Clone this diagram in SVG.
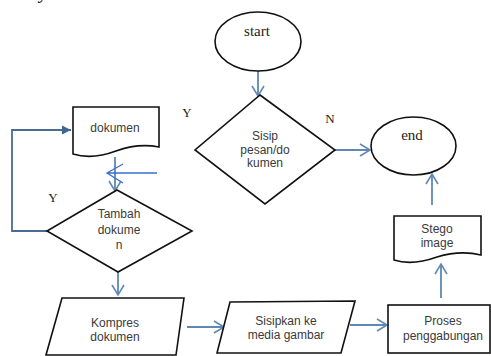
<svg xmlns="http://www.w3.org/2000/svg" width="491" height="356" viewBox="0 0 491 356">
<style>
.shape{fill:#fff;stroke:#111;stroke-width:1.6}
.lbl{font-family:"Liberation Sans",Arial,sans-serif;font-size:12px;fill:#3a3a3a;text-anchor:middle}
.ser{font-family:"Liberation Serif","Times New Roman",serif;fill:#222;text-anchor:middle}
.con{fill:none;stroke:#5f88b3;stroke-width:1.8}
.loop{fill:none;stroke:#4a6c94;stroke-width:1.8}
</style>
<defs>
<marker id="chev" markerUnits="userSpaceOnUse" markerWidth="14" markerHeight="14" refX="11" refY="7" orient="auto">
<path d="M1,1 L11,7 L1,13" fill="none" stroke="#5f88b3" stroke-width="1.6"/>
</marker>
<marker id="tri" markerUnits="userSpaceOnUse" markerWidth="10" markerHeight="10" refX="9" refY="5" orient="auto">
<path d="M0,0.5 L9,5 L0,9.5 Z" fill="#3f6690"/>
</marker>
</defs>
<rect width="491" height="356" fill="#fff"/>
<text x="44" y="-2" class="ser" font-size="20" font-style="italic">y</text>

<g id="connectors">
<line class="con" x1="258" y1="71" x2="258" y2="96" marker-end="url(#chev)"/>
<line class="con" x1="335" y1="150" x2="370" y2="150" marker-end="url(#chev)"/>
<line class="con" x1="432" y1="205" x2="432" y2="174" marker-end="url(#chev)"/>
<line class="con" x1="441" y1="298" x2="441" y2="264" marker-end="url(#chev)"/>
<line class="con" x1="350" y1="325" x2="387" y2="325" marker-end="url(#chev)"/>
<line class="con" x1="187" y1="327" x2="224" y2="327" marker-end="url(#chev)"/>
<line class="con" x1="118" y1="272" x2="118" y2="295" marker-end="url(#chev)"/>
<line class="con" x1="115" y1="157" x2="115" y2="191" marker-end="url(#chev)"/>
<polyline class="loop" points="47,231 12,231 12,130 71,130" marker-end="url(#tri)"/>
<path d="M157,173 H108 M123,164 L107,173 L123,183" fill="none" stroke="#3a6fcf" stroke-width="1.3"/>
</g>

<g id="start">
<ellipse class="shape" cx="258" cy="41.5" rx="43" ry="29.5"/>
<text x="257" y="36" class="ser" font-size="15">start</text>
</g>

<g id="sisip">
<polygon class="shape" points="260,95 335,150 265,204 195,150"/>
<text class="lbl" font-size="10.5" x="265" y="140">Sisip</text>
<text class="lbl" font-size="10.5" x="265" y="153.5">pesan/do</text>
<text class="lbl" font-size="10.5" x="265" y="167">kumen</text>
</g>

<g id="end">
<ellipse class="shape" cx="413.5" cy="146" rx="42.5" ry="29"/>
<text x="412" y="140" class="ser" font-size="15">end</text>
</g>

<g id="stego">
<path class="shape" d="M394,216 H481 V255 Q460,250 437,257 Q412,266 394,260 Z"/>
<text class="lbl" x="437" y="233">Stego</text>
<text class="lbl" x="437" y="247">image</text>
</g>

<g id="proses">
<rect class="shape" x="388" y="305" width="102" height="48"/>
<text class="lbl" x="443" y="325">Proses</text>
<text class="lbl" x="443" y="340">penggabungan</text>
</g>

<g id="sisipkan">
<polygon class="shape" points="230,302 355,301 341,353 217,353"/>
<text class="lbl" x="286" y="325">Sisipkan ke</text>
<text class="lbl" x="286" y="339">media gambar</text>
</g>

<g id="kompres">
<polygon class="shape" points="62,298 184,298 176,355 46,355"/>
<text class="lbl" x="115" y="327">Kompres</text>
<text class="lbl" x="115" y="341">dokumen</text>
</g>

<g id="tambah">
<polygon class="shape" points="117,190 192,231 118,272 47,231"/>
<text class="lbl" x="119" y="218">Tambah</text>
<text class="lbl" x="119" y="234">dokume</text>
<text class="lbl" x="119" y="249">n</text>
</g>

<g id="dokumen">
<path class="shape" d="M73,107 H159 V147 Q138,143 116,151 Q92,160 73,154 Z"/>
<text class="lbl" x="115" y="132" font-size="13">dokumen</text>
</g>

<g id="labels">
<text class="ser" x="187" y="117" font-size="13">Y</text>
<text class="ser" x="330" y="123" font-size="13">N</text>
<text class="ser" x="53" y="202" font-size="13">Y</text>
</g>
</svg>
